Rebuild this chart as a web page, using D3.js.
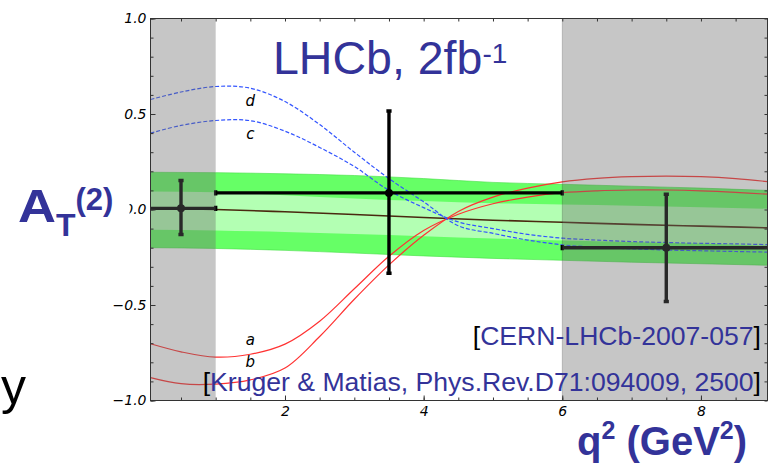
<!DOCTYPE html>
<html><head><meta charset="utf-8">
<script src="https://cdn.jsdelivr.net/npm/d3@7"></script>
<style>body{margin:0;background:#fff}</style>
</head><body>
<svg id="chart" width="777" height="464"></svg>
<script>
// ---------- data ----------
const curveX = [0.06,0.5,1,1.5,2,2.5,3,3.5,4,4.5,5,5.5,6,6.5,7,7.5,8,8.5,8.96];
const curveA = [-0.703,-0.745,-0.773,-0.758,-0.705,-0.585,-0.415,-0.245,-0.110,-0.025,0.030,0.065,0.088,0.098,0.102,0.102,0.098,0.090,0.080];
const curveB = [-0.880,-0.912,-0.914,-0.892,-0.830,-0.665,-0.470,-0.290,-0.135,-0.010,0.065,0.112,0.145,0.163,0.172,0.175,0.172,0.162,0.146];
const curveC = [0.400,0.440,0.466,0.465,0.410,0.325,0.225,0.100,0.010,-0.065,-0.100,-0.130,-0.150,-0.160,-0.168,-0.173,-0.177,-0.180,-0.184];
const curveD = [0.576,0.615,0.644,0.635,0.565,0.445,0.300,0.162,0.040,-0.085,-0.125,-0.160,-0.185,-0.198,-0.206,-0.212,-0.216,-0.220,-0.223];
const curveNames = ["a","b","c","d"];

const bandX = [0.06,1,2,3,4,5,6,7,8,8.96];
const bandOuterTop    = [0.195,0.193,0.187,0.178,0.162,0.142,0.132,0.122,0.112,0.100];
const bandInnerTop    = [0.094,0.090,0.075,0.058,0.044,0.033,0.026,0.020,0.012,0.004];
const bandCenter      = [0.007,0.000,-0.012,-0.026,-0.042,-0.056,-0.067,-0.078,-0.087,-0.096];
const bandInnerBottom = [-0.106,-0.110,-0.118,-0.128,-0.140,-0.152,-0.162,-0.170,-0.178,-0.190];
const bandOuterBottom = [-0.200,-0.204,-0.214,-0.228,-0.243,-0.256,-0.266,-0.276,-0.284,-0.292];

const binLow    = [0.0, 1, 6];
const binHigh   = [1, 6, 9];
const binCenter = [0.5, 3.5, 7.5];
const measured  = [0.006, 0.087, -0.200];
const errTop    = [0.152, 0.516, 0.080];
const errBottom = [-0.131, -0.334, -0.482];

const shadeLow  = [0.0, 6];
const shadeHigh = [1, 9];

const yLabelTicks = [-1.0,-0.5,0.0,0.5,1.0];
const xLabelTicks = [2,4,6,8];

// ---------- setup ----------
const svg = d3.select("#chart");
const W = 777, H = 464;
const x = d3.scaleLinear().domain([0.06, 8.96]).range([150.5, 767.5]);
const y = d3.scaleLinear().domain([-1, 1]).range([400.5, 18.5]);
const blue = "#333399";

svg.append("rect").attr("width", W).attr("height", H).attr("fill", "#fff");

svg.append("defs").append("clipPath").attr("id", "plotclip")
  .append("rect").attr("x", x.range()[0]).attr("y", y.range()[1])
  .attr("width", x.range()[1] - x.range()[0]).attr("height", y.range()[0] - y.range()[1]);

const plot = svg.append("g").attr("clip-path", "url(#plotclip)");

// bands
const bandIdx = d3.range(bandX.length);
const area = (lo, hi) => d3.area().x(i => x(bandX[i])).y0(i => y(lo[i])).y1(i => y(hi[i])).curve(d3.curveMonotoneX);
plot.append("path").datum(bandIdx).attr("d", area(bandOuterBottom, bandOuterTop))
  .attr("fill", "#66ff66").attr("stroke", "#44dd44").attr("stroke-width", 0.6);
plot.append("path").datum(bandIdx).attr("d", area(bandInnerBottom, bandInnerTop))
  .attr("fill", "#b3ffb3");
plot.append("path").datum(bandIdx)
  .attr("d", d3.line().x(i => x(bandX[i])).y(i => y(bandCenter[i])).curve(d3.curveMonotoneX))
  .attr("fill", "none").attr("stroke", "#4a2810").attr("stroke-width", 1.6);

// theory curves
const cIdx = d3.range(curveX.length);
const curveLine = vals => d3.line().x(i => x(curveX[i])).y(i => y(vals[i])).curve(d3.curveCatmullRom.alpha(0.5));
[[curveA, "#ff3333", null], [curveB, "#ff3333", null], [curveC, "#3355ff", "4,2"], [curveD, "#3355ff", "4,2"]]
  .forEach(([vals, col, dash]) => {
    plot.append("path").datum(cIdx).attr("d", curveLine(vals))
      .attr("fill", "none").attr("stroke", col).attr("stroke-width", 1.2)
      .attr("stroke-dasharray", dash);
  });

// error bars
const eb = plot.append("g").attr("stroke", "#000").attr("stroke-width", 3.4);
binCenter.forEach((c, i) => {
  eb.append("line").attr("x1", x(binLow[i])).attr("x2", x(binHigh[i]))
    .attr("y1", y(measured[i])).attr("y2", y(measured[i]));
  [binLow[i], binHigh[i]].forEach(v => eb.append("line")
    .attr("x1", x(v)).attr("x2", x(v))
    .attr("y1", y(measured[i]) - 2.6).attr("y2", y(measured[i]) + 2.6));
  eb.append("line").attr("x1", x(c)).attr("x2", x(c))
    .attr("y1", y(errTop[i])).attr("y2", y(errBottom[i]));
  [errTop[i], errBottom[i]].forEach(v => eb.append("line")
    .attr("x1", x(c) - 2.6).attr("x2", x(c) + 2.6)
    .attr("y1", y(v)).attr("y2", y(v)));
  plot.append("circle").attr("cx", x(c)).attr("cy", y(measured[i])).attr("r", 4).attr("fill", "#000");
});

// curve labels
const labelPos = [[1.5, -0.709], [1.5, -0.822], [1.5, 0.369], [1.5, 0.542]];
curveNames.forEach((n, i) => {
  plot.append("text").attr("x", x(labelPos[i][0])).attr("y", y(labelPos[i][1]))
    .attr("text-anchor", "middle").attr("font-family", "DejaVu Sans").attr("font-style", "italic")
    .attr("font-size", 15).attr("fill", "#000").text(n);
});

// grey shaded (excluded) regions on top
shadeLow.forEach((lo, i) => {
  plot.append("rect").attr("x", x(lo)).attr("y", y(1))
    .attr("width", x(shadeHigh[i]) - x(lo)).attr("height", y(-1) - y(1))
    .attr("fill", "rgb(105,105,105)").attr("fill-opacity", 0.38);
});
plot.append("line").attr("x1", x(6)).attr("x2", x(6)).attr("y1", y(1)).attr("y2", y(-1))
  .attr("stroke", "#000").attr("stroke-opacity", 0.18).attr("stroke-width", 1);

// ---------- axes ----------
const tickFont = g => g.selectAll("text").attr("font-family", "DejaVu Sans")
  .attr("font-style", "italic").attr("font-size", 14).attr("fill", "#000");
const clean = g => { g.select(".domain").remove(); g.selectAll("line").attr("stroke", "#333"); };

const yMinor = d3.range(-10, 11).map(k => k / 10);
const xMinor = d3.range(1, 18).map(k => k / 2);

svg.append("g").attr("transform", `translate(${x.range()[0]},0)`)
  .call(d3.axisLeft(y).tickValues(yMinor).tickSizeInner(-3).tickSizeOuter(0).tickFormat(""))
  .call(clean);
svg.append("g").attr("transform", `translate(${x.range()[0]},0)`)
  .call(d3.axisLeft(y).tickValues(yLabelTicks).tickSizeInner(-5).tickSizeOuter(0).tickPadding(4)
    .tickFormat(d3.format(".1f")))
  .call(clean).call(tickFont);
svg.append("g").attr("transform", `translate(${x.range()[1]},0)`)
  .call(d3.axisRight(y).tickValues(yMinor).tickSizeInner(-3).tickSizeOuter(0).tickFormat(""))
  .call(clean);
svg.append("g").attr("transform", `translate(0,${y.range()[0]})`)
  .call(d3.axisBottom(x).tickValues(xMinor).tickSizeInner(-3).tickSizeOuter(0).tickFormat(""))
  .call(clean);
svg.append("g").attr("transform", `translate(0,${y.range()[0]})`)
  .call(d3.axisBottom(x).tickValues(xLabelTicks).tickSizeInner(-5).tickSizeOuter(0).tickPadding(6)
    .tickFormat(d3.format("d")))
  .call(clean).call(tickFont);
svg.append("g").attr("transform", `translate(0,${y.range()[1]})`)
  .call(d3.axisTop(x).tickValues(xMinor).tickSizeInner(-3).tickSizeOuter(0).tickFormat(""))
  .call(clean);

svg.append("rect").attr("x", x.range()[0]).attr("y", y.range()[1])
  .attr("width", x.range()[1] - x.range()[0]).attr("height", y.range()[0] - y.range()[1])
  .attr("fill", "none").attr("stroke", "#333").attr("stroke-width", 1);

// ---------- texts ----------
const sans = "Liberation Sans, Arial, Helvetica, sans-serif";

// title
const title = svg.append("text").attr("x", 273).attr("y", 74).attr("font-family", sans)
  .attr("font-size", 46.5).attr("fill", blue);
title.append("tspan").text("LHCb, 2fb");
title.append("tspan").attr("font-size", 28).attr("dy", -11).text("-1");

// references
const ref1 = svg.append("text").attr("x", 761).attr("y", 345).attr("text-anchor", "end")
  .attr("font-family", sans).attr("font-size", 26.6).attr("fill", blue);
ref1.append("tspan").attr("fill", "#000").text("[");
ref1.append("tspan").text("CERN-LHCb-2007-057");
ref1.append("tspan").attr("fill", "#000").text("]");

const ref2 = svg.append("text").attr("x", 761).attr("y", 391).attr("text-anchor", "end")
  .attr("font-family", sans).attr("font-size", 26.6).attr("fill", blue);
ref2.append("tspan").attr("fill", "#000").text("[");
ref2.append("tspan").text("Kruger & Matias, Phys.Rev.D71:094009, 2500");
ref2.append("tspan").attr("fill", "#000").text("]");

// y-axis title (with white backing that hides part of the 0.0 label)
svg.append("rect").attr("x", 0).attr("y", 185).attr("width", 129.5).attr("height", 55).attr("fill", "#fff");
const yt = svg.append("text").attr("x", 18).attr("y", 222).attr("font-family", sans)
  .attr("font-weight", "bold").attr("font-size", 46).attr("fill", blue);
yt.append("tspan").attr("textLength", 38).attr("lengthAdjust", "spacingAndGlyphs").text("A");
yt.append("tspan").attr("font-size", 32).attr("dy", 14).text("T");
yt.append("tspan").attr("font-size", 31).attr("dy", -26).text("(2)");

// x-axis title
const xt = svg.append("text").attr("x", 577).attr("y", 455).attr("font-family", sans)
  .attr("font-weight", "bold").attr("font-size", 40).attr("fill", blue);
xt.append("tspan").text("q");
xt.append("tspan").attr("font-size", 25).attr("dy", -16).text("2");
xt.append("tspan").attr("dy", 16).text(" (GeV");
xt.append("tspan").attr("font-size", 25).attr("dy", -16).text("2");
xt.append("tspan").attr("dy", 16).text(")");

// stray glyph at lower left
svg.append("text").attr("x", 1).attr("y", 404).attr("font-family", sans)
  .attr("font-size", 50).attr("fill", "#000").text("y");
</script>
</body></html>
